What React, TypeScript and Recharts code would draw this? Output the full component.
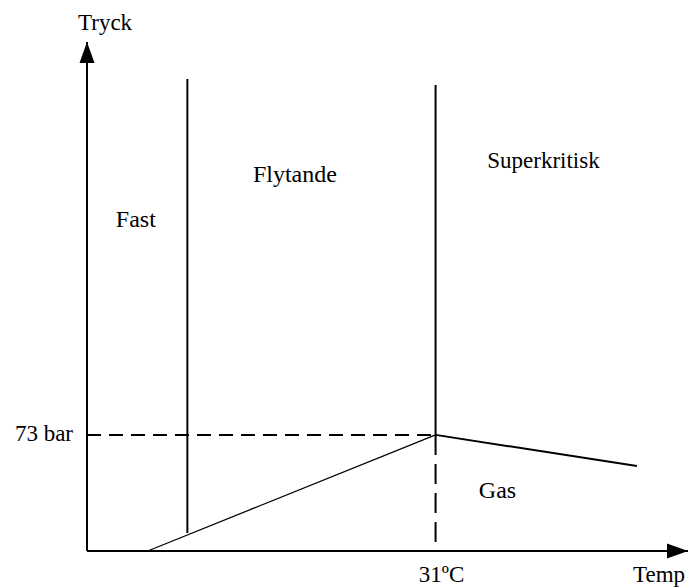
import { ComposedChart, Line, Scatter, XAxis, YAxis } from 'recharts'

// abstract temperature units on x (0..100), pressure in bar on y (0..320)
const critical = { x: 58, y: 73 }
const solidLiquid = [
  { x: 16.7, y: 11.3 },
  { x: 16.7, y: 296.7 },
]
const liquidSuper = [
  { x: 58, y: 73 },
  { x: 58, y: 293 },
]
const sublimation = [
  { x: 10.1, y: 0 },
  { x: 58, y: 73 },
]
const gasBoundary = [
  { x: 58, y: 73 },
  { x: 91.5, y: 53.4 },
]
const pressureGuide = [
  { x: 0, y: 73 },
  { x: 58, y: 73 },
]
const tempGuide = [
  { x: 58, y: 73 },
  { x: 58, y: 0 },
]
const regions = [
  { name: 'Fast', x: 4.8, y: 203.7 },
  { name: 'Flytande', x: 27.6, y: 232 },
  { name: 'Superkritisk', x: 66.6, y: 240.6 },
  { name: 'Gas', x: 65.2, y: 33.3 },
]
const arrowTips = [
  { x: 0, y: 320, dir: 'up' },
  { x: 100, y: 0, dir: 'right' },
]
const xTicks = [critical.x]
const yTicks = [critical.y]
const xTickLabel = '31ºC'
const yTickLabel = '73 bar'

const font = '"Liberation Serif", "Times New Roman", serif'
const textStyle = { fontFamily: font, fontSize: 23, fill: '#000' }
const regionStyle = { ...textStyle, fontSize: 24 }

function Arrow(props: any) {
  const { cx, cy, payload } = props
  if (payload.dir === 'up') {
    return <polygon points={`${cx},${cy} ${cx - 7.5},${cy + 21} ${cx + 7.5},${cy + 21}`} fill="#000" />
  }
  return <polygon points={`${cx},${cy} ${cx - 21},${cy - 7.5} ${cx - 21},${cy + 7.5}`} fill="#000" />
}

function RegionLabel(props: any) {
  const { cx, cy, payload } = props
  const style = payload.name === 'Superkritisk' ? textStyle : regionStyle
  return (
    <text x={cx} y={cy} style={style}>
      {payload.name}
    </text>
  )
}

function XTick({ x, y }: any) {
  return (
    <text x={x + 6} y={y + 31} textAnchor="middle" style={textStyle}>
      {xTickLabel}
    </text>
  )
}

function YTick({ x, y }: any) {
  return (
    <text x={x - 14} y={y + 6} textAnchor="end" style={textStyle}>
      {yTickLabel}
    </text>
  )
}

export default function App() {
  const lineProps = {
    dataKey: 'y',
    stroke: '#000',
    dot: false,
    activeDot: false,
    isAnimationActive: false,
    type: 'linear' as const,
  }
  return (
    <div style={{ position: 'absolute', left: 0, top: 0, background: '#fff' }}>
      <ComposedChart width={691} height={588} margin={{ top: 42, right: 3, bottom: 0, left: 0 }}>
        <XAxis
          type="number"
          dataKey="x"
          domain={[0, 100]}
          ticks={xTicks}
          height={37}
          tickLine={false}
          tickSize={0}
          tickMargin={0}
          axisLine={{ stroke: '#000', strokeWidth: 2 }}
          tick={<XTick />}
          label={(p: any) => {
            const vb = p.viewBox
            return (
              <text x={vb.x + vb.width - 55} y={vb.y + 31} style={textStyle}>
                Temp
              </text>
            )
          }}
        />
        <YAxis
          type="number"
          dataKey="y"
          domain={[0, 320]}
          ticks={yTicks}
          width={87}
          tickLine={false}
          tickSize={0}
          tickMargin={0}
          axisLine={{ stroke: '#000', strokeWidth: 2 }}
          tick={<YTick />}
          label={(p: any) => {
            const vb = p.viewBox
            return (
              <text x={vb.x + vb.width - 9} y={vb.y - 12} style={textStyle}>
                Tryck
              </text>
            )
          }}
        />
        <Line {...lineProps} data={pressureGuide} strokeWidth={2} strokeDasharray="14 8" />
        <Line {...lineProps} data={tempGuide} strokeWidth={2} strokeDasharray="20 9" />
        <Line {...lineProps} data={solidLiquid} strokeWidth={2} />
        <Line {...lineProps} data={liquidSuper} strokeWidth={2} />
        <Line {...lineProps} data={sublimation} strokeWidth={1.3} />
        <Line {...lineProps} data={gasBoundary} strokeWidth={2} />
        <Scatter data={regions} dataKey="y" shape={<RegionLabel />} isAnimationActive={false} />
        <Scatter data={arrowTips} dataKey="y" shape={<Arrow />} isAnimationActive={false} />
      </ComposedChart>
    </div>
  )
}
